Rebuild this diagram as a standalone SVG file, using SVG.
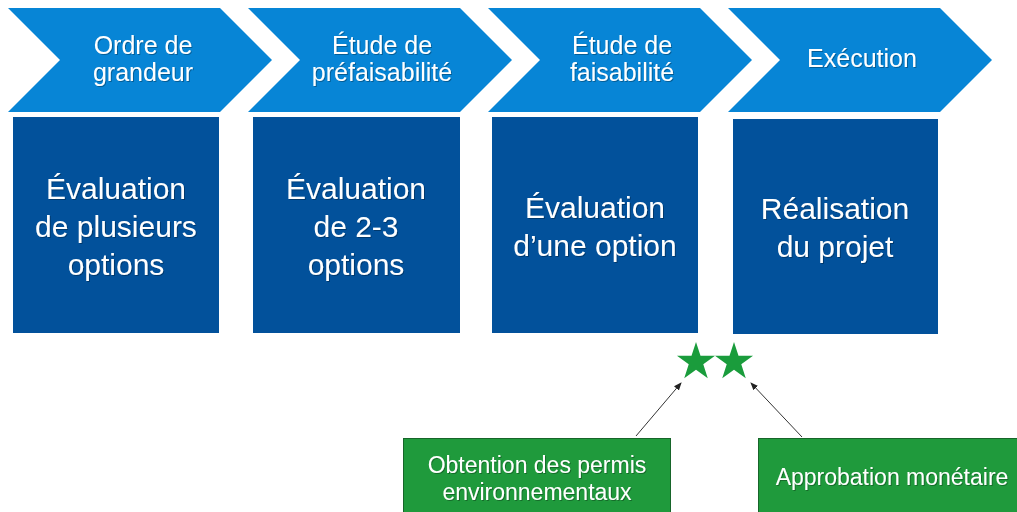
<svg xmlns="http://www.w3.org/2000/svg" width="1017" height="512" viewBox="0 0 1017 512">
  <style>
    .chev { fill: #0785d6; }
    .box { fill: #02519b; }
    .gbox { fill: #1f9a3c; stroke: #17652a; stroke-width: 1; }
    .star { fill: #1a9c3c; }
    .t { font-family: "Liberation Sans", Arial, sans-serif; fill: #ffffff; text-anchor: middle; }
    .th { font-size: 25px; }
    .tb { font-size: 30px; }
    .tg { font-size: 23px; }
    .conn { stroke: #333333; stroke-width: 1; fill: none; }
  </style>
  <defs>
    <filter id="sh" x="-10%" y="-10%" width="120%" height="130%">
      <feDropShadow dx="1" dy="1" stdDeviation="0.6" flood-color="#000000" flood-opacity="0.3"/>
    </filter>
    <path id="starShape" d="M0,-20 L4.5,-6.19 L19.02,-6.18 L7.28,2.36 L11.76,16.18 L0,7.65 L-11.76,16.18 L-7.28,2.36 L-19.02,-6.18 L-4.5,-6.19 Z"/>
    <marker id="ah" markerWidth="8" markerHeight="8" refX="7" refY="4" orient="auto" markerUnits="userSpaceOnUse">
      <path d="M0,0.8 L8,4 L0,7.2 Z" fill="#222222"/>
    </marker>
  </defs>
  <rect width="1017" height="512" fill="#ffffff"/>

  <g id="phase1">
    <polygon class="chev" points="8,8 220,8 272,60 220,112 8,112 60,60"/>
    <text class="t th" filter="url(#sh)"><tspan x="143" y="54">Ordre de</tspan><tspan x="143" y="81">grandeur</tspan></text>
  </g>
  <g id="phase2">
    <polygon class="chev" points="248,8 460,8 512,60 460,112 248,112 300,60"/>
    <text class="t th" filter="url(#sh)"><tspan x="382" y="54">Étude de</tspan><tspan x="382" y="81">préfaisabilité</tspan></text>
  </g>
  <g id="phase3">
    <polygon class="chev" points="488,8 700,8 752,60 700,112 488,112 540,60"/>
    <text class="t th" filter="url(#sh)"><tspan x="622" y="54">Étude de</tspan><tspan x="622" y="81">faisabilité</tspan></text>
  </g>
  <g id="phase4">
    <polygon class="chev" points="728,8 940,8 992,60 940,112 728,112 780,60"/>
    <text class="t th" filter="url(#sh)" x="862" y="67">Exécution</text>
  </g>

  <g id="desc1">
    <rect class="box" x="13" y="117" width="206" height="216"/>
    <text class="t tb" filter="url(#sh)"><tspan x="116" y="199">Évaluation</tspan><tspan x="116" y="237">de plusieurs</tspan><tspan x="116" y="275">options</tspan></text>
  </g>
  <g id="desc2">
    <rect class="box" x="253" y="117" width="207" height="216"/>
    <text class="t tb" filter="url(#sh)"><tspan x="356" y="199">Évaluation</tspan><tspan x="356" y="237">de 2-3</tspan><tspan x="356" y="275">options</tspan></text>
  </g>
  <g id="desc3">
    <rect class="box" x="492" y="117" width="206" height="216"/>
    <text class="t tb" filter="url(#sh)"><tspan x="595" y="218">Évaluation</tspan><tspan x="595" y="256">d’une option</tspan></text>
  </g>
  <g id="desc4">
    <rect class="box" x="733" y="119" width="205" height="215"/>
    <text class="t tb" filter="url(#sh)"><tspan x="835" y="219">Réalisation</tspan><tspan x="835" y="257">du projet</tspan></text>
  </g>

  <g id="milestones">
    <use href="#starShape" class="star" x="696" y="362"/>
    <use href="#starShape" class="star" x="734" y="362"/>
  </g>

  <g id="permits">
    <rect class="gbox" x="403.5" y="438.5" width="267" height="80"/>
    <text class="t tg" filter="url(#sh)"><tspan x="537" y="473">Obtention des permis</tspan><tspan x="537" y="500">environnementaux</tspan></text>
  </g>
  <g id="funding">
    <rect class="gbox" x="758.5" y="438.5" width="265" height="80"/>
    <text class="t tg" filter="url(#sh)" x="892" y="485">Approbation monétaire</text>
  </g>

  <g id="connectors">
    <line class="conn" x1="636" y1="436" x2="681" y2="383" marker-end="url(#ah)"/>
    <line class="conn" x1="802" y1="437" x2="751" y2="383" marker-end="url(#ah)"/>
  </g>
</svg>
